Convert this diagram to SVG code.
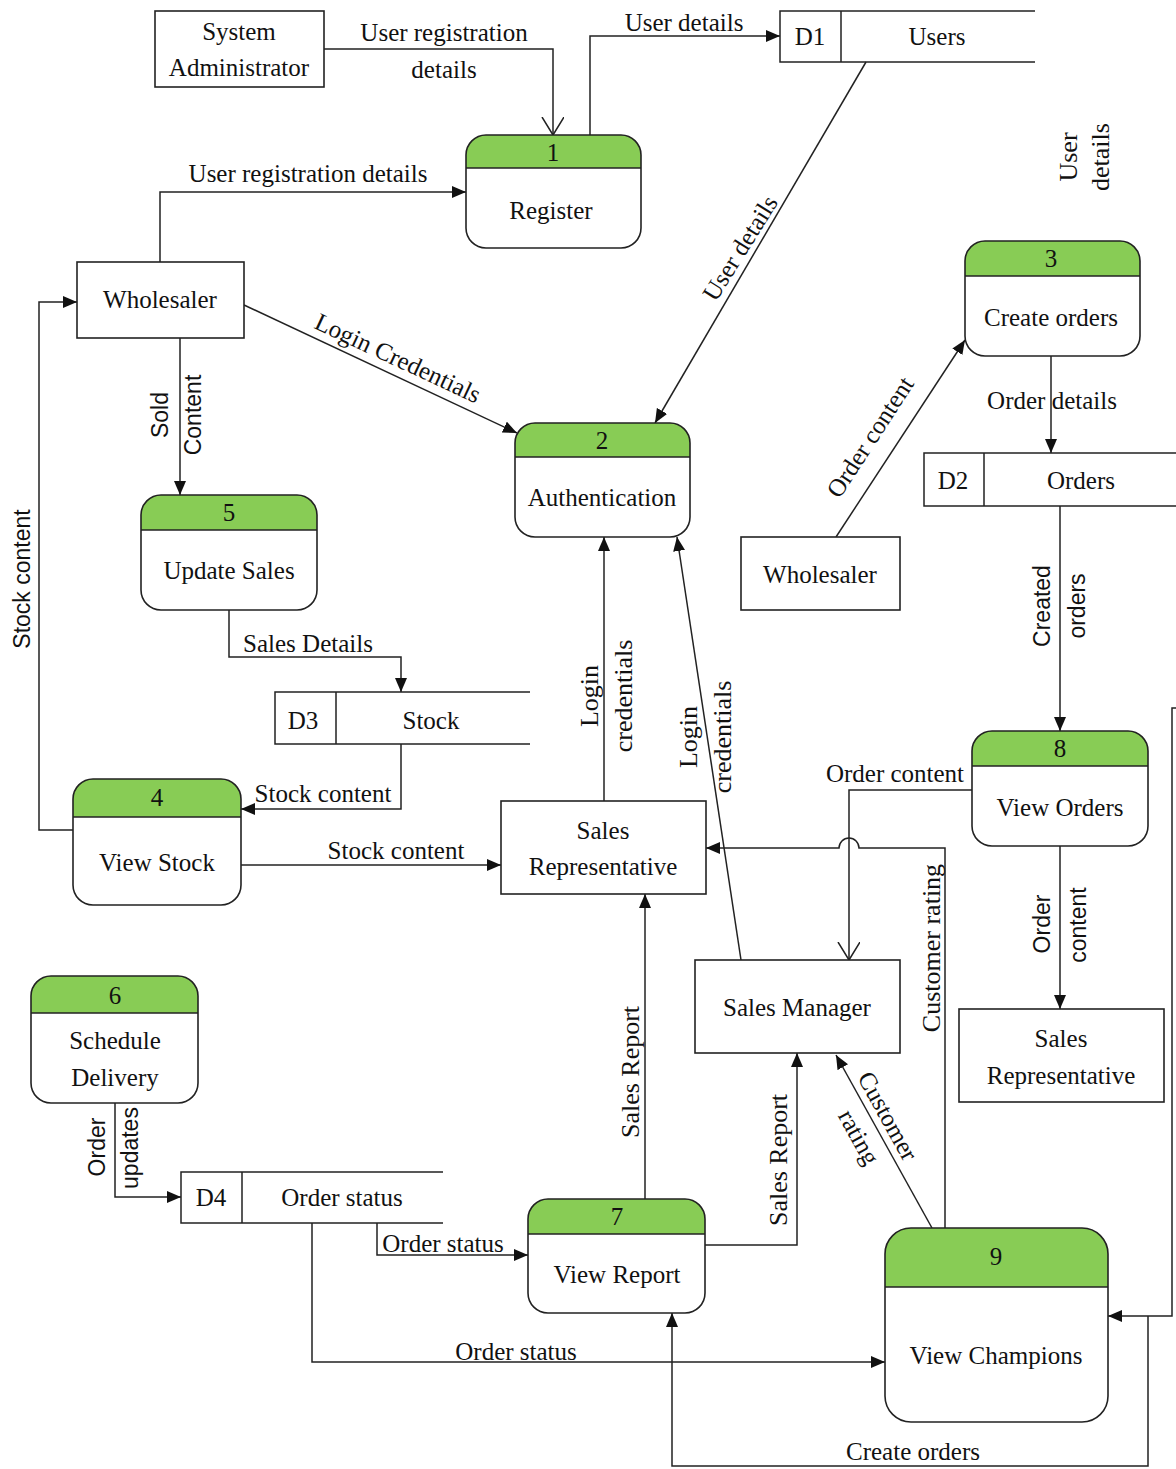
<svg xmlns="http://www.w3.org/2000/svg" width="1176" height="1469" viewBox="0 0 1176 1469">
<style>
.bg{fill:#fff;stroke:none}
.bx{fill:none;stroke:#222;stroke-width:1.6}
.hd{fill:#88cc55;stroke:none}
.ln{fill:none;stroke:#222;stroke-width:1.5}
.t{font-family:"Liberation Serif",serif;font-size:25px;fill:#111;text-anchor:middle;dominant-baseline:central}
.v{font-family:"Liberation Serif",serif;font-size:26px;fill:#111;text-anchor:middle;dominant-baseline:central}
.s{font-family:"Liberation Sans",sans-serif;font-size:23px;fill:#111;text-anchor:middle;dominant-baseline:central}
</style>
<defs>
<marker id="ar" markerUnits="userSpaceOnUse" markerWidth="15" markerHeight="13" refX="14" refY="6" orient="auto">
<path d="M0,0 L14,6 L0,12 Z" fill="#111"/>
</marker>
<marker id="op" markerUnits="userSpaceOnUse" markerWidth="20" markerHeight="24" refX="18" refY="11" orient="auto">
<path d="M0,0 L18,11 L0,22" fill="none" stroke="#222" stroke-width="1.5"/>
</marker>
</defs>
<rect x="0" y="0" width="1176" height="1469" fill="#fff"/>

<g id="connectors" class="ln">
<path d="M324,49 H553 V135" marker-end="url(#op)"/>
<path d="M590,135 V36 H780" marker-end="url(#ar)"/>
<path d="M866,62 L655,423" marker-end="url(#ar)"/>
<path d="M160,262 V192 H466" marker-end="url(#ar)"/>
<path d="M244,305 L517,433" marker-end="url(#ar)"/>
<path d="M180,338 V495" marker-end="url(#ar)"/>
<path d="M229,610 V657 H401 V692" marker-end="url(#ar)"/>
<path d="M401,744 V809 H241" marker-end="url(#ar)"/>
<path d="M73,830 H39 V302 H77" marker-end="url(#ar)"/>
<path d="M241,865 H501" marker-end="url(#ar)"/>
<path d="M604,801 V537" marker-end="url(#ar)"/>
<path d="M741,960 L677,537" marker-end="url(#ar)"/>
<path d="M972,790 H849 V960" marker-end="url(#op)"/>
<path d="M945,1228 V848 H859 A10,10 0 0 0 839,848 H706" marker-end="url(#ar)"/>
<path d="M836,537 L965,340" marker-end="url(#ar)"/>
<path d="M1051,356 V453" marker-end="url(#ar)"/>
<path d="M1060,506 V731" marker-end="url(#ar)"/>
<path d="M1060,846 V1009" marker-end="url(#ar)"/>
<path d="M645,1199 V894" marker-end="url(#ar)"/>
<path d="M705,1245 H797 V1053" marker-end="url(#ar)"/>
<path d="M932,1228 L836,1055" marker-end="url(#ar)"/>
<path d="M377,1223 V1255 H528" marker-end="url(#ar)"/>
<path d="M312,1223 V1362 H885" marker-end="url(#ar)"/>
<path d="M115,1103 V1197 H181" marker-end="url(#ar)"/>
<path d="M1176,708 H1172 V1316 H1108" marker-end="url(#ar)"/>
<path d="M1148,1316 V1466 H672 V1313" marker-end="url(#ar)"/>
</g>

<g id="connector-labels">
<text class="t" x="444" y="32">User registration</text>
<text class="t" x="444" y="69">details</text>
<text class="t" x="684" y="22">User details</text>
<text class="t" x="308" y="173">User registration details</text>
<text class="t" transform="rotate(-58 740 248)" x="740" y="248">User details</text>
<text class="v" transform="rotate(-90 1068 157)" x="1068" y="157">User</text>
<text class="v" transform="rotate(-90 1100 157)" x="1100" y="157">details</text>
<text class="t" transform="rotate(25 398 358)" x="398" y="358">Login Credentials</text>
<text class="s" transform="rotate(-90 160 415)" x="160" y="415">Sold</text>
<text class="s" transform="rotate(-90 193 415)" x="193" y="415">Content</text>
<text class="s" transform="rotate(-90 22 579)" x="22" y="579">Stock content</text>
<text class="t" transform="rotate(-57 870 437)" x="870" y="437">Order content</text>
<text class="t" x="1052" y="400">Order details</text>
<text class="s" transform="rotate(-90 1042 606)" x="1042" y="606">Created</text>
<text class="s" transform="rotate(-90 1077 606)" x="1077" y="606">orders</text>
<text class="t" x="308" y="643">Sales Details</text>
<text class="t" x="323" y="793">Stock content</text>
<text class="t" x="396" y="850">Stock content</text>
<text class="v" transform="rotate(-90 589 696)" x="589" y="696">Login</text>
<text class="v" transform="rotate(-90 623 696)" x="623" y="696">credentials</text>
<text class="v" transform="rotate(-90 688 737)" x="688" y="737">Login</text>
<text class="v" transform="rotate(-90 722 737)" x="722" y="737">credentials</text>
<text class="t" x="895" y="773">Order content</text>
<text class="v" transform="rotate(-90 931 948)" x="931" y="948">Customer rating</text>
<text class="s" transform="rotate(-90 1042 924)" x="1042" y="924">Order</text>
<text class="s" transform="rotate(-90 1078 925)" x="1078" y="925">content</text>
<text class="v" transform="rotate(-90 630 1072)" x="630" y="1072">Sales Report</text>
<text class="v" transform="rotate(-90 778 1160)" x="778" y="1160">Sales Report</text>
<text class="t" transform="rotate(61 888 1116)" x="888" y="1116">Customer</text>
<text class="t" transform="rotate(61 859 1137)" x="859" y="1137">rating</text>
<text class="s" transform="rotate(-90 97 1147)" x="97" y="1147">Order</text>
<text class="s" transform="rotate(-90 130 1148)" x="130" y="1148">updates</text>
<text class="t" x="443" y="1243">Order status</text>
<text class="t" x="516" y="1351">Order status</text>
<text class="t" x="913" y="1451">Create orders</text>
</g>

<g id="sysadmin">
<rect class="bg" x="155" y="11" width="169" height="76"/>
<rect class="bx" x="155" y="11" width="169" height="76"/>
<text class="t" x="239" y="31">System</text>
<text class="t" x="239" y="67">Administrator</text>
</g>

<g id="d1">
<path class="ln" d="M1035,11 H780 V62 H1035 M841,11 V62"/>
<text class="t" x="810" y="36">D1</text>
<text class="t" x="937" y="36">Users</text>
</g>

<g id="p1">
<rect class="bg" x="466" y="135" width="175" height="113" rx="20"/>
<path class="hd" d="M466,168 V155 A20,20 0 0 1 486,135 H621 A20,20 0 0 1 641,155 V168 Z"/>
<rect class="bx" x="466" y="135" width="175" height="113" rx="20"/>
<line class="ln" x1="466" y1="168" x2="641" y2="168"/>
<text class="t" x="553" y="152">1</text>
<text class="t" x="551" y="210">Register</text>
</g>

<g id="wholesaler1">
<rect class="bg" x="77" y="262" width="167" height="76"/>
<rect class="bx" x="77" y="262" width="167" height="76"/>
<text class="t" x="160" y="299">Wholesaler</text>
</g>

<g id="p2">
<rect class="bg" x="515" y="423" width="175" height="114" rx="20"/>
<path class="hd" d="M515,457 V443 A20,20 0 0 1 535,423 H670 A20,20 0 0 1 690,443 V457 Z"/>
<rect class="bx" x="515" y="423" width="175" height="114" rx="20"/>
<line class="ln" x1="515" y1="457" x2="690" y2="457"/>
<text class="t" x="602" y="440">2</text>
<text class="t" x="602" y="497">Authentication</text>
</g>

<g id="p3">
<rect class="bg" x="965" y="241" width="175" height="115" rx="20"/>
<path class="hd" d="M965,276 V261 A20,20 0 0 1 985,241 H1120 A20,20 0 0 1 1140,261 V276 Z"/>
<rect class="bx" x="965" y="241" width="175" height="115" rx="20"/>
<line class="ln" x1="965" y1="276" x2="1140" y2="276"/>
<text class="t" x="1051" y="258">3</text>
<text class="t" x="1051" y="317">Create orders</text>
</g>

<g id="d2">
<path class="ln" d="M1176,453 H924 V506 H1176 M984,453 V506"/>
<text class="t" x="953" y="480">D2</text>
<text class="t" x="1081" y="480">Orders</text>
</g>

<g id="wholesaler2">
<rect class="bg" x="741" y="537" width="159" height="73"/>
<rect class="bx" x="741" y="537" width="159" height="73"/>
<text class="t" x="820" y="574">Wholesaler</text>
</g>

<g id="p5">
<rect class="bg" x="141" y="495" width="176" height="115" rx="20"/>
<path class="hd" d="M141,530 V515 A20,20 0 0 1 161,495 H297 A20,20 0 0 1 317,515 V530 Z"/>
<rect class="bx" x="141" y="495" width="176" height="115" rx="20"/>
<line class="ln" x1="141" y1="530" x2="317" y2="530"/>
<text class="t" x="229" y="512">5</text>
<text class="t" x="229" y="570">Update Sales</text>
</g>

<g id="d3">
<path class="ln" d="M530,692 H275 V744 H530 M336,692 V744"/>
<text class="t" x="303" y="720">D3</text>
<text class="t" x="431" y="720">Stock</text>
</g>

<g id="p4">
<rect class="bg" x="73" y="779" width="168" height="126" rx="20"/>
<path class="hd" d="M73,817 V799 A20,20 0 0 1 93,779 H221 A20,20 0 0 1 241,799 V817 Z"/>
<rect class="bx" x="73" y="779" width="168" height="126" rx="20"/>
<line class="ln" x1="73" y1="817" x2="241" y2="817"/>
<text class="t" x="157" y="797">4</text>
<text class="t" x="157" y="862">View Stock</text>
</g>

<g id="salesrep1">
<rect class="bg" x="501" y="801" width="205" height="93"/>
<rect class="bx" x="501" y="801" width="205" height="93"/>
<text class="t" x="603" y="830">Sales</text>
<text class="t" x="603" y="866">Representative</text>
</g>

<g id="p8">
<rect class="bg" x="972" y="731" width="176" height="115" rx="20"/>
<path class="hd" d="M972,766 V751 A20,20 0 0 1 992,731 H1128 A20,20 0 0 1 1148,751 V766 Z"/>
<rect class="bx" x="972" y="731" width="176" height="115" rx="20"/>
<line class="ln" x1="972" y1="766" x2="1148" y2="766"/>
<text class="t" x="1060" y="748">8</text>
<text class="t" x="1060" y="807">View Orders</text>
</g>

<g id="salesmanager">
<rect class="bg" x="695" y="960" width="205" height="93"/>
<rect class="bx" x="695" y="960" width="205" height="93"/>
<text class="t" x="797" y="1007">Sales Manager</text>
</g>

<g id="salesrep2">
<rect class="bg" x="959" y="1009" width="205" height="93"/>
<rect class="bx" x="959" y="1009" width="205" height="93"/>
<text class="t" x="1061" y="1038">Sales</text>
<text class="t" x="1061" y="1075">Representative</text>
</g>

<g id="p6">
<rect class="bg" x="31" y="976" width="167" height="127" rx="20"/>
<path class="hd" d="M31,1013 V996 A20,20 0 0 1 51,976 H178 A20,20 0 0 1 198,996 V1013 Z"/>
<rect class="bx" x="31" y="976" width="167" height="127" rx="20"/>
<line class="ln" x1="31" y1="1013" x2="198" y2="1013"/>
<text class="t" x="115" y="995">6</text>
<text class="t" x="115" y="1040">Schedule</text>
<text class="t" x="115" y="1077">Delivery</text>
</g>

<g id="d4">
<path class="ln" d="M443,1172 H181 V1223 H443 M242,1172 V1223"/>
<text class="t" x="211" y="1197">D4</text>
<text class="t" x="342" y="1197">Order status</text>
</g>

<g id="p7">
<rect class="bg" x="528" y="1199" width="177" height="114" rx="20"/>
<path class="hd" d="M528,1234 V1219 A20,20 0 0 1 548,1199 H685 A20,20 0 0 1 705,1219 V1234 Z"/>
<rect class="bx" x="528" y="1199" width="177" height="114" rx="20"/>
<line class="ln" x1="528" y1="1234" x2="705" y2="1234"/>
<text class="t" x="617" y="1216">7</text>
<text class="t" x="617" y="1274">View Report</text>
</g>

<g id="p9">
<rect class="bg" x="885" y="1228" width="223" height="194" rx="26"/>
<path class="hd" d="M885,1287 V1254 A26,26 0 0 1 911,1228 H1082 A26,26 0 0 1 1108,1254 V1287 Z"/>
<rect class="bx" x="885" y="1228" width="223" height="194" rx="26"/>
<line class="ln" x1="885" y1="1287" x2="1108" y2="1287"/>
<text class="t" x="996" y="1256">9</text>
<text class="t" x="996" y="1355">View Champions</text>
</g>
</svg>
